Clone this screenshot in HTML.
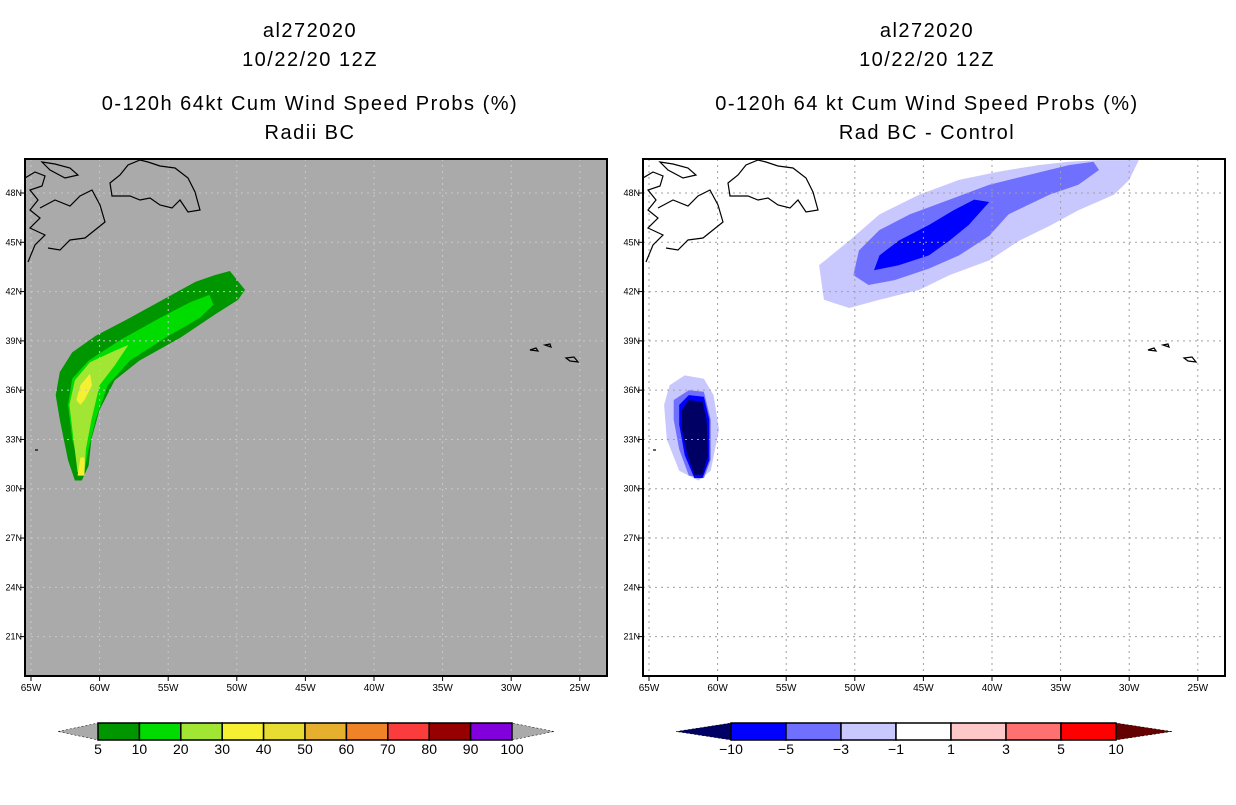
<!DOCTYPE html>
<html><head><meta charset="utf-8"><style>
body{margin:0;background:#fff;}
svg text{font-family:"Liberation Sans",sans-serif;}
</style></head><body>
<svg id="root" width="1236" height="800" viewBox="0 0 1236 800">
<g id="titles"></g>
<g id="pL"></g>
<g id="pR"></g>
<g id="cbL"></g>
<g id="cbR"></g>
</svg>
<script>
const lonTicks=[-65,-60,-55,-50,-45,-40,-35,-30,-25];
const latTicks=[21,24,27,30,33,36,39,42,45,48];
// left panel contours (lon,lat)
const probOuter=[[-61.8,30.5],[-62.3,31.75],[-62.9,34.2],[-63.2,35.7],[-62.9,37.1],[-62.0,38.3],[-60.3,39.3],[-57.8,40.4],[-55.2,41.6],[-53.0,42.6],[-51.6,43.0],[-50.5,43.25],[-49.4,42.1],[-49.9,41.5],[-51.6,40.6],[-54.1,39.2],[-57.1,37.8],[-58.9,36.6],[-60.0,34.8],[-60.6,33.0],[-60.8,31.4],[-61.3,30.5]];
const prob10=[[-61.4,31.1],[-62.0,33.0],[-62.3,35.1],[-62.0,36.7],[-60.8,37.8],[-58.5,39.05],[-55.6,40.4],[-53.4,41.35],[-52.0,41.8],[-51.7,41.2],[-52.7,40.4],[-55.2,39.2],[-57.8,37.8],[-59.4,36.3],[-60.3,34.2],[-60.8,32.4],[-61.1,31.1]];
const prob20=[[-61.6,31.0],[-61.9,33.0],[-62.2,35.1],[-61.8,36.6],[-60.7,37.7],[-58.9,38.4],[-57.9,38.75],[-58.9,37.5],[-60.0,36.3],[-60.6,34.2],[-61.0,32.4],[-61.1,31.0]];
const prob30a=[[-61.7,35.4],[-61.4,36.3],[-60.7,37.0],[-60.55,36.3],[-61.1,35.4],[-61.4,35.1]];
const prob30b=[[-61.6,30.8],[-61.4,31.9],[-61.1,31.9],[-61.1,30.8]];
// right panel contours
const difUpL=[[-52.25,41.5],[-52.6,43.6],[-50.4,45.1],[-48.2,46.7],[-45.3,47.9],[-42.4,48.8],[-39.5,49.3],[-36.6,49.7],[-34.4,49.9],[-32.2,50.0],[-29.3,50.0],[-30.0,48.8],[-31.1,47.9],[-33.7,46.95],[-35.8,46.0],[-38.0,45.1],[-40.2,43.9],[-43.1,43.0],[-45.3,42.1],[-48.2,41.5],[-50.4,41.0]];
const difUpM=[[-50.1,43.0],[-49.7,44.5],[-48.2,45.75],[-46.0,46.7],[-43.1,47.6],[-40.2,48.5],[-37.3,49.1],[-34.4,49.7],[-32.6,49.9],[-32.2,49.4],[-33.7,48.5],[-35.8,47.9],[-38.8,46.7],[-40.2,45.4],[-42.4,44.2],[-44.6,43.4],[-47.1,42.7],[-49.0,42.4]];
const difUpB=[[-48.6,43.3],[-48.2,44.2],[-46.8,45.1],[-44.6,46.05],[-42.8,46.95],[-41.3,47.6],[-40.2,47.45],[-41.7,46.05],[-43.1,45.1],[-44.6,44.2],[-46.8,43.6]];
const difLoL=[[-63.5,36.3],[-62.4,36.9],[-61.0,36.7],[-60.3,35.7],[-59.9,33.6],[-60.5,31.1],[-61.4,30.5],[-62.8,31.1],[-63.7,33.0],[-63.9,35.1]];
const difLoM=[[-63.2,35.4],[-62.1,36.0],[-61.0,35.9],[-60.5,34.2],[-60.5,31.75],[-61.0,30.65],[-62.1,30.8],[-62.8,32.4],[-63.2,34.2]];
const difLoB=[[-62.8,35.1],[-62.1,35.7],[-61.0,35.6],[-60.6,34.2],[-60.6,31.75],[-61.1,30.65],[-61.7,30.65],[-62.4,32.05],[-62.8,33.9]];
const difLoN=[[-62.6,34.8],[-62.1,35.4],[-61.1,35.3],[-60.8,34.2],[-60.7,32.05],[-61.1,30.85],[-61.7,30.85],[-62.2,32.05],[-62.6,33.6]];
const cbLLabels=["5","10","20","30","40","50","60","70","80","90","100"];
const cbLColors=["#009600","#00dc00","#a0e632","#f5f032","#e6dc32","#e6af2d","#f08228","#fa3c3c","#960000","#8200dc"];
const cbRLabels=["-10","-5","-3","-1","1","3","5","10"];
const cbRColors=["#0000ff","#7070ff","#c8c8ff","#ffffff","#ffc8c8","#ff7070","#ff0000"];

const NS="http://www.w3.org/2000/svg";
function mk(tag,attrs,parent){const e=document.createElementNS(NS,tag);for(const k in attrs)e.setAttribute(k,attrs[k]);parent.appendChild(e);return e;}
const Y0=159,Y1=676;
function xs(off){return lon=>off+31+(lon+65)*13.72;}
function ys(lat){return 193+(48-lat)*16.43;}
function poly(g,pts,fill,off,name){const X=xs(off);const p=mk('polygon',{points:pts.map(q=>X(q[0]).toFixed(1)+','+ys(q[1]).toFixed(1)).join(' '),fill:fill},g);

}

// titles
const T=document.getElementById('titles');
[[310,["al272020","10/22/20 12Z","0-120h 64kt Cum Wind Speed Probs (%)","Radii BC"]],[927,["al272020","10/22/20 12Z","0-120h 64 kt Cum Wind Speed Probs (%)","Rad BC - Control"]]].forEach((d,i)=>{
 [37,66,110,139].forEach((y,j)=>{const t=mk('text',{x:d[0],y:y,'text-anchor':'middle','font-size':20,'letter-spacing':'1.5',fill:'#000'},T);t.textContent=d[1][j];
 
 });
});

const coast=[
"M25,178 L35,172 L45,176 L42,186 L30,190 L38,200 L30,210 L40,218 L30,228 L45,235 L35,245 L28,262",
"M40,208 L55,200 L70,206 L80,196 L92,190 L100,205 L105,222 L95,230 L85,238 L70,240 L60,250 L48,248",
"M42,162 L55,164 L70,168 L78,175 L65,178 L50,170 Z",
"M110,183 L120,175 L128,165 L140,160 L148,162 L160,166 L175,168 L188,178 L195,192 L200,210 L188,212 L180,200 L172,208 L160,205 L150,198 L140,200 L130,196 L112,196 Z",
"M530,350 L536,348 L538,351 Z","M545,345 L550,344 L551,347 Z","M566,358 L574,357 L578,362 L570,361 Z","M35,450 L38,450"];

function panel(id,off,bg){
 const g=document.getElementById(id);const X=xs(off);
 const cp=mk('clipPath',{id:'c'+id},g);mk('rect',{x:25+off,y:Y0,width:582,height:Y1-Y0},cp);
 const bgR=mk('rect',{x:25+off,y:Y0,width:582,height:Y1-Y0,fill:bg},g);
 
 
 const inner=mk('g',{'clip-path':'url(#c'+id+')'},g);
 if(id==='pL'){
  poly(inner,probOuter,cbLColors[0],off,'prob-5-10');
  poly(inner,prob10,cbLColors[1],off,'prob-10-20');
  poly(inner,prob20,cbLColors[2],off,'prob-20-30');
  poly(inner,prob30a,cbLColors[3],off,'prob-30-40-a');
  poly(inner,prob30b,cbLColors[3],off,'prob-30-40-b');
 } else {
  poly(inner,difUpL,cbRColors[2],off,'diff-upper-1-3');
  poly(inner,difUpM,cbRColors[1],off,'diff-upper-3-5');
  poly(inner,difUpB,cbRColors[0],off,'diff-upper-5-10');
  poly(inner,difLoL,cbRColors[2],off,'diff-lower-1-3');
  poly(inner,difLoM,cbRColors[1],off,'diff-lower-3-5');
  poly(inner,difLoB,cbRColors[0],off,'diff-lower-5-10');
  poly(inner,difLoN,'#000064',off,'diff-lower-gt-10');
 }
 const gc=id==='pL'?'#c8c8c8':'#a0a0a0';
 lonTicks.forEach(l=>{const x=X(l);mk('line',{x1:x,x2:x,y1:Y0,y2:Y1,stroke:gc,'stroke-width':1,'stroke-dasharray':'2,4'},inner);
  mk('line',{x1:x,x2:x,y1:Y1,y2:Y1+5,stroke:'#000'},g);
  const t=mk('text',{x:x,y:Y1+15,'text-anchor':'middle','font-size':10},g);t.textContent=(-l)+'W';
  
  });
 latTicks.forEach(l=>{const y=ys(l);mk('line',{x1:25+off,x2:607+off,y1:y,y2:y,stroke:gc,'stroke-width':1,'stroke-dasharray':'2,4'},inner);
  mk('line',{x1:20+off,x2:25+off,y1:y,y2:y,stroke:'#000'},g);
  const t=mk('text',{x:22+off,y:y+3,'text-anchor':'end','font-size':9},g);t.textContent=l+'N';
  
  });
 coast.forEach(d=>{const p=mk('path',{d:d,fill:'none',stroke:'#000','stroke-width':1.2,transform:'translate('+off+',0)'},inner);
  
  });
 const fr=mk('rect',{x:25+off,y:Y0,width:582,height:Y1-Y0,fill:'none',stroke:'#000','stroke-width':2},g);
 
 
}
panel('pL',0,'#aaaaaa');panel('pR',618,'#ffffff');

function cbar(id,x0,x1,tipL,tipR,colors,labels,cl,cr){
 const g=document.getElementById(id);const y0=723,y1=740,w=(x1-x0)/colors.length;
 mk('polygon',{points:`${tipL},${(y0+y1)/2} ${x0},${y0} ${x0},${y1}`,fill:cl,stroke:'#000','stroke-width':0.5,'stroke-dasharray':'2,2'},g);
 mk('polygon',{points:`${tipR},${(y0+y1)/2} ${x1},${y0} ${x1},${y1}`,fill:cr,stroke:'#000','stroke-width':0.5,'stroke-dasharray':'2,2'},g);
 colors.forEach((c,i)=>{const r=mk('rect',{x:x0+i*w,y:y0,width:w,height:y1-y0,fill:c,stroke:'#000','stroke-width':1.5},g);
  
  });
 labels.forEach((l,i)=>{const t=mk('text',{x:x0+i*w,y:y1+14,'text-anchor':'middle','font-size':14},g);t.textContent=l.replace('-','\u2212');
  
  });
}
cbar('cbL',98,512,58,554,cbLColors,cbLLabels,'#aaaaaa','#aaaaaa');
cbar('cbR',731,1116,676,1172,cbRColors,cbRLabels,'#000064','#640000');
</script>
</body></html>
